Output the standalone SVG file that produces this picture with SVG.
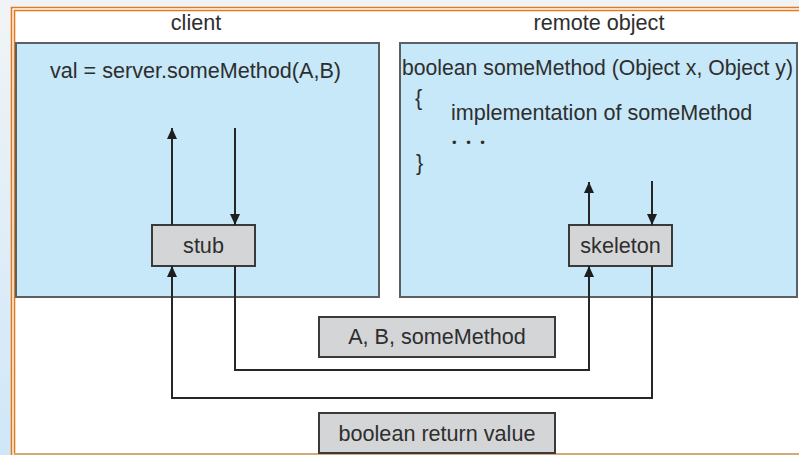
<svg xmlns="http://www.w3.org/2000/svg" width="799" height="455" viewBox="0 0 799 455">
<defs>
<linearGradient id="bg" x1="0" y1="0" x2="0" y2="1">
<stop offset="0" stop-color="#f1f4f6"/>
<stop offset="1" stop-color="#cfe7f8"/>
</linearGradient>
<marker id="ah" markerUnits="userSpaceOnUse" markerWidth="12" markerHeight="12" viewBox="0 0 12 12" refX="11" refY="6" orient="auto">
<path d="M0,1 L11,6 L0,11 Z" fill="#1e1e1e"/>
</marker>
<style>
.t{font-family:"Liberation Sans",Arial,sans-serif;font-size:21.6px;fill:#2e2e2e}
.m{text-anchor:middle}
.pane{fill:#c6e8f9;stroke:#5b6064;stroke-width:2}
.box{fill:#d4d5d7;stroke:#3a3a3a;stroke-width:2}
.c{fill:none;stroke:#262626;stroke-width:2}
</style>
</defs>
<rect x="0" y="0" width="799" height="455" fill="#f1f4f6"/>
<rect x="0" y="0" width="11" height="455" fill="url(#bg)"/>
<rect x="12" y="8" width="787" height="447" fill="#ffffff"/>
<path d="M11.5,455 V7.5 H799" fill="none" stroke="#e07a1a" stroke-width="1.6"/>
<path d="M14.5,455 V10.5 H799" fill="none" stroke="#e07a1a" stroke-width="1.6"/>
<line x1="14" y1="454" x2="799" y2="454" stroke="#d6a979" stroke-width="2"/>

<text class="t m" x="196" y="30">client</text>
<text class="t m" x="599" y="30">remote object</text>

<g id="client">
<rect class="pane" x="16" y="43" width="363" height="254"/>
<text class="t" x="50" y="78">val = server.someMethod(A,B)</text>
</g>
<g id="remote">
<rect class="pane" x="400" y="43" width="397" height="254"/>
<text class="t" x="402" y="75" style="font-size:21.2px">boolean someMethod (Object x, Object y)</text>
<text class="t" x="415" y="105">{</text>
<text class="t" x="451" y="120">implementation of someMethod</text>
<text class="t" x="452" y="147" style="font-size:13px;letter-spacing:3px">• • •</text>
<text class="t" x="416" y="170">}</text>
</g>
<g id="stub">
<rect class="box" x="152" y="225" width="103" height="41"/>
<text class="t m" x="203.5" y="253">stub</text>
</g>
<g id="skeleton">
<rect class="box" x="569" y="225" width="103" height="41"/>
<text class="t m" x="620.5" y="253">skeleton</text>
</g>
<g id="args">
<rect class="box" x="319" y="317" width="236" height="40"/>
<text class="t m" x="437" y="344">A, B, someMethod</text>
</g>
<g id="retval">
<rect class="box" x="319" y="413" width="236" height="40"/>
<text class="t m" x="437" y="441">boolean return value</text>
</g>

<g id="connectors">
<line class="c" x1="172" y1="225" x2="172" y2="128" marker-end="url(#ah)"/>
<line class="c" x1="235" y1="128" x2="235" y2="225" marker-end="url(#ah)"/>
<line class="c" x1="589" y1="225" x2="589" y2="182" marker-end="url(#ah)"/>
<line class="c" x1="652" y1="181" x2="652" y2="225" marker-end="url(#ah)"/>
<polyline class="c" points="235,266 235,370 589,370 589,266" marker-end="url(#ah)"/>
<polyline class="c" points="652,266 652,398 172,398 172,266" marker-end="url(#ah)"/>
</g>
</svg>
